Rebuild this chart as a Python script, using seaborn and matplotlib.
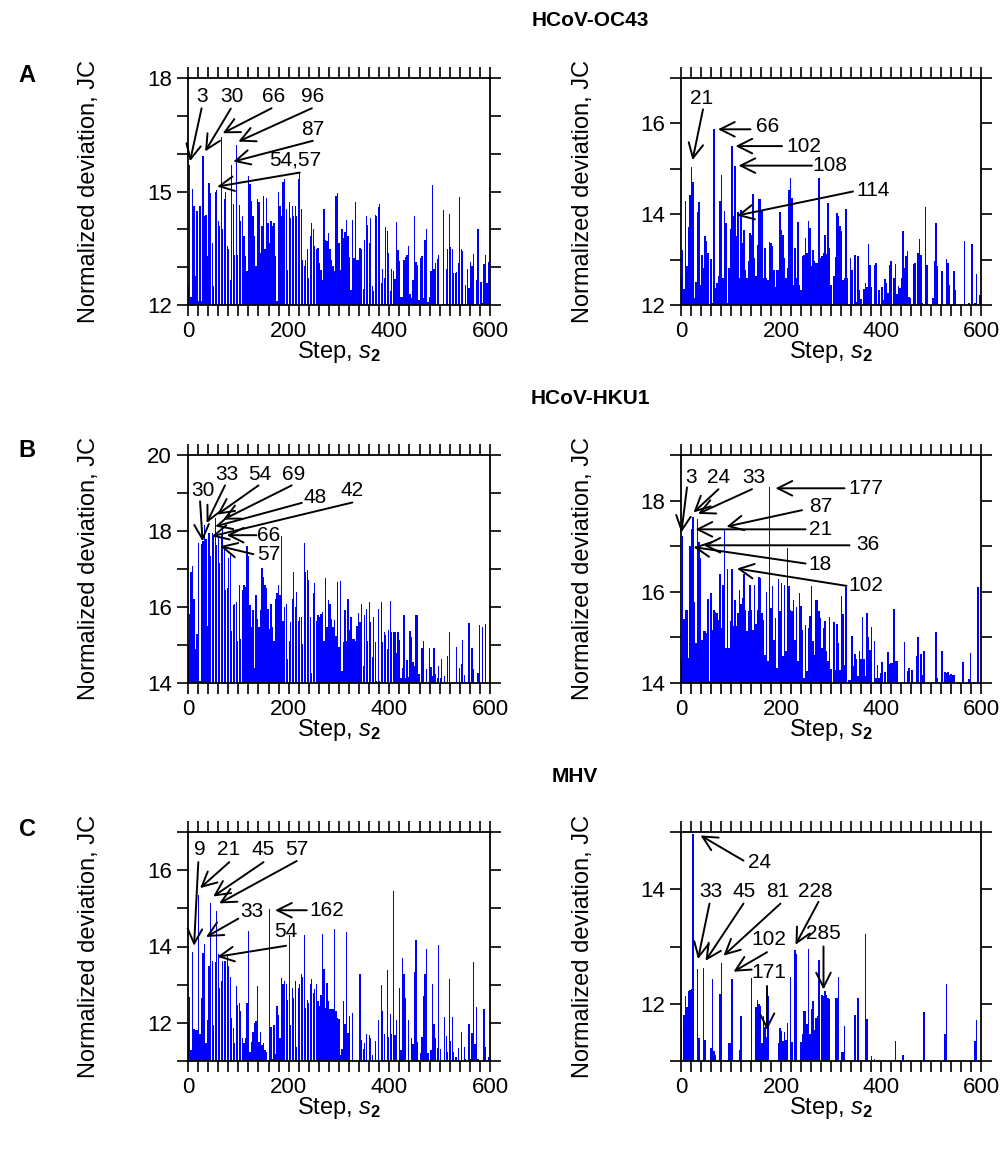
import numpy as np
import pandas as pd
import matplotlib
matplotlib.use("Agg")
import matplotlib.pyplot as plt
import seaborn as sns
from matplotlib.ticker import FixedLocator, MultipleLocator

sns.set_theme(style="ticks")
plt.rcParams['font.family'] = ['Liberation Sans', 'DejaVu Sans']
plt.rcParams['text.color'] = 'black'
plt.rcParams['axes.labelcolor'] = 'black'
plt.rcParams['mathtext.fontset'] = 'custom'
plt.rcParams['mathtext.rm'] = 'Liberation Sans'
plt.rcParams['mathtext.it'] = 'Liberation Sans:italic'
plt.rcParams['mathtext.bf'] = 'Liberation Sans:bold'

# шаг s2 = 0, 3, 6, ... 600
STEP = 3

# HCoV-OC43
oc43_left = [
    12.5, 15.71, 12.2, 15.07, 14.62, 12.76, 14.49, 12.1, 14.62, 12.1,
    15.94, 14.36, 14.37, 13.3, 15.23, 14.96, 13.64, 12.5, 14.98, 15.05,
    14.22, 14.09, 16.44, 14.0, 14.8, 14.98, 13.56, 13.47, 12.67, 15.71,
    14.67, 13.33, 16.22, 13.33, 14.64, 14.22, 14.36, 13.82, 13.29, 12.89,
    15.42, 15.2, 14.76, 14.36, 13.82, 13.02, 14.8, 14.71, 13.38, 14.09,
    14.89, 13.47, 14.84, 14.18, 13.64, 14.22, 14.09, 14.18, 13.29, 12.1,
    15.0, 14.62, 14.36, 15.24, 15.33, 14.53, 12.93, 14.71, 14.31, 14.62,
    14.36, 14.62, 14.36, 15.33, 15.51, 14.53, 13.2, 13.02, 13.2, 13.47,
    12.71, 13.82, 14.18, 14.0, 13.56, 13.47, 13.51, 13.11, 12.93, 12.67,
    14.53, 13.73, 13.69, 13.91, 13.47, 13.2, 13.02, 12.9, 14.89, 14.96,
    13.64, 12.93, 14.02, 13.78, 13.94, 14.25, 13.82, 13.26, 12.4, 14.24,
    13.24, 14.71, 13.2, 13.2, 13.51, 13.47, 12.43, 13.73, 14.36, 14.11,
    13.63, 14.29, 12.49, 12.36, 14.38, 14.36, 14.6, 14.67, 12.58, 12.96,
    12.71, 14.07, 13.96, 13.38, 12.38, 12.96, 12.89, 12.69, 14.2, 13.45,
    13.15, 12.2, 12.22, 13.2, 13.26, 13.31, 13.57, 12.29, 12.18, 12.65,
    14.36, 13.14, 13.07, 12.13, 13.24, 13.29, 12.18, 13.73, 14.02, 12.09,
    12.22, 12.89, 15.18, 12.95, 13.11, 13.22, 13.31, 12.0, 12.0, 14.51,
    12.0, 12.95, 13.47, 14.4, 13.54, 13.47, 12.84, 12.84, 12.88, 13.11,
    14.86, 13.48, 13.42, 12.0, 12.53, 12.96, 12.44, 13.14, 13.02, 13.36,
    12.0, 12.67, 14.0, 12.0, 12.6, 12.04, 13.09, 13.33, 12.58, 13.14,
    13.16,
]
oc43_right = [
    12.6, 13.21, 12.35, 14.29, 12.87, 13.71, 14.43, 15.04, 14.72, 12.16,
    12.51, 14.04, 14.26, 12.44, 13.1, 12.81, 13.51, 13.4, 13.15, 12.0,
    13.02, 12.05, 15.88, 12.37, 12.48, 12.63, 14.29, 14.87, 12.59, 14.06,
    13.8, 12.04, 12.81, 13.67, 15.51, 13.95, 15.07, 13.51, 14.05, 12.59,
    14.1, 13.36, 13.65, 12.77, 12.59, 12.97, 13.58, 13.54, 14.45, 13.03,
    12.63, 13.32, 14.33, 14.33, 14.1, 12.59, 13.26, 12.59, 12.55, 13.38,
    13.36, 13.29, 12.77, 12.4, 12.77, 12.77, 14.04, 13.65, 13.54, 13.03,
    12.59, 12.81, 14.54, 14.79, 14.35, 12.44, 13.25, 12.59, 13.82, 12.44,
    12.33, 13.07, 13.1, 13.47, 13.14, 13.84, 13.69, 12.85, 13.21, 12.97,
    12.92, 12.93, 14.79, 13.03, 13.07, 13.14, 13.54, 13.13, 14.24, 13.26,
    12.44, 12.0, 12.63, 13.05, 14.02, 13.95, 13.73, 13.62, 12.55, 12.59,
    14.12, 12.59, 12.0, 13.03, 12.76, 12.0, 13.1, 12.07, 13.09, 12.33,
    12.13, 12.0, 12.35, 12.48, 12.4, 13.35, 12.88, 12.4, 12.0, 12.88,
    12.92, 12.0, 12.33, 12.0, 12.39, 12.11, 12.57, 12.48, 12.26, 12.88,
    12.98, 12.0, 12.59, 12.9, 12.24, 12.42, 12.37, 12.59, 13.63, 12.81,
    13.08, 13.19, 12.18, 12.16, 12.0, 12.9, 12.92, 12.0, 13.14, 13.45,
    13.1, 12.04, 12.0, 14.15, 12.88, 12.0, 12.0, 12.0, 12.15, 12.96,
    13.8, 12.85, 12.0, 12.0, 12.74, 12.0, 12.0, 13.01, 12.92, 12.44,
    12.0, 12.0, 12.75, 12.33, 12.0, 12.0, 12.0, 12.0, 12.0, 13.4,
    12.0, 12.0, 12.05, 12.0, 13.34, 12.0, 12.04, 12.68, 12.0, 12.22,
    12.18,
]

# HCoV-HKU1
hku1_left = [
    15.0, 15.82, 16.91, 17.09, 16.22, 14.89, 15.29, 17.69, 14.04, 17.67,
    17.75, 18.15, 17.78, 15.51, 17.95, 17.35, 17.94, 17.85, 18.33, 17.64,
    17.82, 17.16, 17.94, 18.13, 17.6, 16.44, 16.49, 17.29, 17.38, 15.38,
    16.04, 16.09, 16.13, 15.11, 16.58, 15.16, 16.44, 16.58, 16.53, 17.6,
    17.33, 16.04, 15.47, 15.91, 14.4, 16.31, 15.69, 15.47, 15.91, 17.02,
    16.8, 16.58, 16.49, 15.96, 15.42, 16.09, 15.47, 15.11, 16.22, 16.36,
    16.58, 16.31, 17.88, 15.64, 16.0, 16.09, 14.62, 15.11, 15.6, 16.22,
    16.91, 16.0, 16.4, 15.64, 15.73, 15.73, 15.02, 17.69, 16.93, 16.98,
    16.71, 15.73, 14.27, 16.36, 16.62, 15.64, 15.78, 15.75, 15.82, 15.87,
    15.11, 16.76, 15.47, 16.18, 16.09, 15.69, 15.47, 15.66, 15.24, 16.67,
    14.95, 16.69, 14.31, 15.09, 15.91, 15.11, 16.2, 15.4, 15.75, 15.16,
    15.17, 15.11, 15.51, 15.85, 15.6, 16.09, 14.44, 15.78, 15.94, 15.11,
    16.13, 15.6, 14.68, 15.75, 15.09, 14.04, 15.96, 14.04, 16.13, 15.08,
    15.33, 15.27, 14.89, 15.4, 16.16, 15.33, 15.33, 15.33, 14.8, 15.33,
    15.13, 14.12, 14.4, 15.78, 14.13, 14.6, 14.15, 15.38, 15.2, 14.55,
    14.44, 15.78, 15.8, 14.25, 14.0, 14.93, 15.11, 14.0, 14.36, 14.0,
    14.93, 14.42, 14.18, 14.92, 14.24, 14.13, 14.44, 14.13, 14.62, 14.0,
    14.18, 14.0, 14.71, 15.35, 14.0, 14.0, 14.0, 14.0, 14.95, 14.0,
    14.4, 14.51, 15.14, 14.22, 14.0, 14.0, 15.57, 14.0, 14.93, 14.36,
    14.0, 14.0, 14.27, 15.53, 14.0, 15.48, 14.0, 15.54, 14.0, 14.0,
    14.0,
]
hku1_right = [
    14.5, 17.22, 15.41, 15.61, 15.6, 14.55, 17.0, 17.37, 17.63, 15.77,
    14.88, 17.59, 17.1, 16.75, 14.95, 15.13, 15.15, 15.1, 15.85, 14.04,
    15.98, 15.17, 15.59, 15.56, 15.54, 15.39, 16.38, 15.2, 16.16, 17.35,
    14.77, 16.49, 14.77, 15.36, 16.51, 15.25, 15.83, 15.25, 15.54, 16.03,
    15.73, 15.86, 16.38, 15.59, 15.15, 15.57, 16.14, 15.61, 15.17, 16.15,
    15.3, 15.61, 16.33, 16.31, 15.54, 15.39, 14.62, 16.0, 14.48, 18.29,
    15.65, 16.12, 14.95, 15.43, 14.33, 16.27, 15.58, 16.2, 14.59, 16.15,
    14.7, 16.97, 16.12, 15.61, 15.57, 15.83, 14.95, 15.67, 14.48, 15.98,
    15.69, 15.17, 14.11, 15.28, 14.26, 15.21, 15.47, 16.13, 14.92, 14.61,
    15.83, 15.81, 15.57, 15.43, 14.77, 15.21, 15.36, 14.7, 14.48, 15.44,
    14.31, 14.0, 15.33, 14.29, 15.3, 14.88, 14.29, 15.9, 15.52, 14.4,
    16.11, 14.0, 14.07, 14.07, 15.04, 14.37, 14.64, 14.53, 14.16, 14.7,
    14.53, 15.44, 14.53, 14.15, 15.53, 15.0, 14.73, 15.23, 14.0, 14.92,
    14.11, 14.4, 14.11, 14.22, 14.45, 14.0, 14.24, 14.0, 14.68, 14.42,
    14.44, 14.44, 15.63, 14.48, 14.48, 14.0, 14.0, 14.0, 14.0, 14.89,
    14.0, 14.27, 14.33, 14.0, 14.29, 14.0, 14.0, 14.59, 15.0, 14.0,
    14.64, 14.18, 14.7, 14.0, 14.0, 14.0, 14.0, 14.0, 14.0, 14.0,
    15.11, 14.11, 14.0, 14.0, 14.71, 14.0, 14.24, 14.23, 14.24, 14.18,
    14.2, 14.17, 14.18, 14.0, 14.0, 14.0, 14.0, 14.0, 14.46, 14.0,
    14.0, 14.0, 14.09, 14.65, 14.0, 14.0, 14.0, 14.0, 16.11, 14.0,
    14.0,
]

# MHV
mhv_left = [
    12.0, 12.68, 11.3, 13.85, 11.84, 11.81, 11.81, 15.35, 11.71, 12.65,
    13.83, 14.07, 11.46, 12.08, 13.48, 15.15, 13.63, 11.95, 13.6, 14.94,
    13.81, 12.92, 13.1, 13.63, 13.61, 13.63, 13.81, 13.5, 13.19, 12.12,
    11.86, 11.46, 12.96, 12.48, 12.52, 12.3, 11.59, 11.46, 11.59, 12.52,
    14.41, 11.24, 11.5, 11.77, 11.99, 12.04, 12.96, 11.5, 11.77, 11.42,
    11.46, 11.28, 11.24, 11.0, 14.97, 11.9, 11.06, 11.95, 11.19, 12.43,
    12.21, 11.59, 13.17, 13.01, 13.1, 13.01, 12.61, 14.29, 11.95, 12.92,
    12.65, 13.1, 11.37, 12.92, 13.01, 13.27, 13.19, 14.29, 12.39, 12.61,
    12.52, 13.01, 13.14, 12.79, 12.88, 13.01, 12.57, 12.43, 12.74, 14.34,
    13.41, 12.39, 13.05, 12.57, 12.35, 12.35, 12.35, 14.47, 12.3, 12.12,
    12.11, 11.15, 11.31, 12.57, 11.98, 14.38, 11.74, 12.17, 11.0, 12.27,
    11.0, 11.0, 11.0, 11.0, 13.27, 11.55, 11.31, 11.46, 11.71, 11.0,
    11.68, 11.59, 11.15, 11.0, 11.52, 11.0, 12.08, 11.0, 12.98, 12.3,
    11.71, 11.0, 13.39, 11.64, 12.23, 11.71, 15.46, 11.68, 12.08, 11.0,
    12.92, 11.28, 13.7, 13.27, 12.65, 11.0, 12.08, 11.0, 11.59, 11.44,
    13.32, 14.16, 11.5, 11.0, 11.22, 11.64, 12.71, 13.27, 13.94, 11.21,
    11.0, 11.3, 13.01, 11.96, 11.6, 11.33, 14.05, 11.31, 11.0, 11.0,
    12.14, 11.65, 11.24, 13.14, 11.52, 12.14, 11.24, 11.1, 11.1, 11.33,
    11.0, 11.77, 11.0, 11.37, 11.06, 11.0, 11.97, 11.06, 11.74, 13.6,
    11.44, 12.41, 11.06, 11.0, 11.0, 11.0, 12.35, 11.37, 11.0, 11.1,
    11.0,
]
mhv_right = [
    11.54, 11.0, 11.8, 12.13, 11.95, 12.22, 12.24, 12.25, 14.96, 11.0,
    11.0, 12.6, 11.4, 11.0, 11.0, 12.63, 11.37, 11.0, 11.0, 11.0,
    11.22, 12.43, 11.17, 11.1, 11.0, 11.0, 12.17, 12.72, 11.0, 11.0,
    11.02, 11.0, 11.31, 11.31, 12.43, 11.0, 11.0, 11.0, 11.0, 11.19,
    11.78, 11.0, 11.0, 11.0, 11.0, 11.0, 11.0, 12.45, 11.0, 11.0,
    11.94, 12.07, 11.99, 11.96, 11.31, 11.78, 11.6, 11.42, 12.13, 11.0,
    11.0, 11.0, 11.0, 11.0, 11.0, 11.31, 11.57, 11.53, 11.35, 11.51,
    11.37, 11.66, 11.0, 12.46, 11.34, 11.0, 12.94, 12.87, 11.0, 11.0,
    11.34, 11.48, 11.88, 11.87, 11.64, 12.95, 11.48, 11.9, 12.05, 11.54,
    11.75, 11.78, 12.76, 11.0, 12.15, 12.13, 12.22, 12.16, 12.1, 12.09,
    11.0, 11.0, 11.0, 12.1, 12.1, 12.47, 11.0, 11.15, 11.15, 11.61,
    11.0, 11.0, 11.0, 11.0, 11.0, 11.0, 11.81, 11.0, 12.1, 11.0,
    11.0, 11.0, 11.0, 13.21, 11.73, 11.0, 11.0, 11.08, 11.0, 11.04,
    11.0, 11.0, 11.0, 11.0, 11.0, 11.0, 11.0, 11.0, 11.0, 11.0,
    11.0, 11.0, 11.0, 11.35, 11.0, 11.0, 11.0, 11.0, 11.11, 11.0,
    11.0, 11.0, 11.0, 11.0, 11.0, 11.0, 11.0, 11.0, 11.0, 11.0,
    11.0, 11.0, 11.86, 11.0, 11.0, 11.0, 11.0, 11.0, 11.0, 11.02,
    11.0, 11.0, 11.0, 11.0, 11.0, 11.0, 11.48, 12.34, 11.0, 11.0,
    11.0, 11.0, 11.0, 11.0, 11.0, 11.0, 11.0, 11.0, 11.0, 11.0,
    11.0, 11.0, 11.0, 11.0, 11.0, 11.0, 11.35, 11.72, 11.0, 11.0,
    11.0,
]

# пределы и подписи оси y
ylims = [(12, 18), (12, 17), (14, 20), (14, 19), (11, 17), (11, 15)]
yticklabels = [[12, 15, 18], [12, 14, 16], [14, 16, 18, 20], [14, 16, 18], [12, 14, 16], [12, 14]]
xticklabels = [0, 200, 400, 600]

# подписи пиков: (текст, позиция текста, начало стрелки, конец стрелки)
notes = [
    [("3", (27, 17.5), (27, 17.2), (4, 15.8)),
     ("30", (87, 17.5), (85, 17.19), (34, 16.06)),
     ("66", (170, 17.5), (166, 17.2), (69, 16.54)),
     ("96", (248, 17.5), (246, 17.2), (100, 16.32)),
     ("87", (248, 16.63), (248, 16.34), (90, 15.79)),
     ("54,57", (213, 15.82), (222, 15.5), (58, 15.13))],
    [("21", (41, 16.55), (44, 16.31), (23, 15.19)),
     ("66", (174, 15.93), (139, 15.87), (74, 15.87)),
     ("102", (245, 15.5), (202, 15.5), (109, 15.5)),
     ("108", (298, 15.08), (262, 15.07), (115, 15.07)),
     ("114", (384, 14.53), (344, 14.5), (112, 13.97))],
    [("30", (30.5, 19.06), (24, 18.78), (29, 17.73)),
     ("33", (77, 19.48), (73.5, 19.2), (37, 18.21)),
     ("54", (143, 19.48), (140, 19.2), (58, 18.43)),
     ("69", (209, 19.48), (206, 19.2), (70, 18.3)),
     ("48", (252, 18.87), (226, 18.74), (54, 18.12)),
     ("42", (326.5, 19.06), (326.5, 18.75), (47, 17.86)),
     ("66", (160, 17.89), (136, 17.89), (77, 17.89)),
     ("57", (160, 17.38), (130, 17.39), (64, 17.6))],
    [("3", (20.7, 18.5), (12, 18.29), (0.7, 17.3)),
     ("24", (75, 18.5), (75, 18.25), (25, 17.74)),
     ("33", (145, 18.5), (142, 18.25), (34, 17.71)),
     ("177", (369, 18.27), (327, 18.27), (189, 18.27)),
     ("87", (279, 17.88), (242, 17.79), (91, 17.43)),
     ("21", (279, 17.37), (249, 17.37), (29, 17.37)),
     ("36", (373, 17.04), (337, 17.02), (45, 17.02)),
     ("18", (279, 16.6), (249, 16.62), (25, 16.98)),
     ("102", (369, 16.14), (331, 16.13), (112, 16.51))],
    [("9", (24, 16.54), (20.5, 16.21), (12, 14.02)),
     ("21", (80, 16.54), (82, 16.21), (24, 15.53)),
     ("45", (150, 16.54), (150, 16.21), (50, 15.31)),
     ("57", (216, 16.54), (216, 16.24), (62, 15.13)),
     ("33", (126.5, 14.91), (100, 14.73), (36, 14.25)),
     ("162", (275.5, 14.95), (236, 14.95), (173, 14.95)),
     ("54", (195, 14.38), (195, 14.02), (58, 13.73))],
    [("24", (157, 14.46), (125, 14.5), (39, 14.94)),
     ("33", (59, 13.96), (57, 13.75), (34, 12.78)),
     ("45", (127, 13.96), (125, 13.75), (49, 12.75)),
     ("81", (194, 13.96), (199, 13.75), (85, 12.84)),
     ("102", (175, 13.13), (172, 12.9), (105, 12.56)),
     ("171", (175, 12.54), (172, 12.31), (172, 11.54)),
     ("228", (268, 13.96), (275, 13.78), (229, 13.03)),
     ("285", (284, 13.22), (285, 13.0), (285, 12.25))],
]

series = [oc43_left, oc43_right, hku1_left, hku1_right, mhv_left, mhv_right]

W, H = 1006, 1156
rows = [(78, 305), (455, 683), (832, 1061)]
cols = [(188, 490), (681, 981)]

fig = plt.figure(figsize=(W / 100, H / 100), dpi=100)

for i, vals in enumerate(series):
    r, c = divmod(i, 2)
    y0, y1 = rows[r]
    x0, x1 = cols[c]
    ax = fig.add_axes([x0 / W, 1 - y1 / H, (x1 - x0) / W, (y1 - y0) / H])

    df = pd.DataFrame({"step": np.arange(len(vals)) * STEP, "value": vals})
    sns.barplot(data=df, x="step", y="value", native_scale=True, orient="x",
                color="#0000ff", saturation=1, width=0.85, errorbar=None,
                linewidth=0, antialiased=False, ax=ax)

    ax.set_xlim(0, 600)
    ax.set_ylim(*ylims[i])
    ax.xaxis.set_major_locator(FixedLocator(xticklabels))
    ax.xaxis.set_minor_locator(MultipleLocator(20))
    ax.yaxis.set_major_locator(FixedLocator(yticklabels[i]))
    ax.yaxis.set_minor_locator(MultipleLocator(1))
    ax.tick_params(which="both", direction="out", length=8, width=1.2,
                   top=True, right=True, color="black")
    ax.tick_params(labelsize=16, labelcolor="black")
    for sp in ax.spines.values():
        sp.set_color("black")
        sp.set_linewidth(1.3)

    ax.set_ylabel("Normalized deviation, JC", fontsize=17)
    ax.yaxis.set_label_coords(-0.29, 0.5)
    ax.set_xlabel(r"Step, $s_\mathbf{2}$", fontsize=17)
    ax.xaxis.set_label_coords(0.5, -0.15)

    for label, txy, start, tip in notes[i]:
        ax.annotate("", xy=tip, xytext=start, annotation_clip=False,
                    arrowprops=dict(arrowstyle="->,head_length=0.7,head_width=0.35",
                                    lw=1.4, color="black", shrinkA=0, shrinkB=0,
                                    mutation_scale=15))
        ax.text(txy[0], txy[1], label, ha="center", va="center", fontsize=15,
                clip_on=False)

# заголовки и буквы панелей
for title, (px, py) in [("HCoV-OC43", (590, 20)), ("HCoV-HKU1", (590, 398)), ("MHV", (575, 776))]:
    fig.text(px / W, 1 - py / H, title, ha="center", va="center",
             fontsize=15, fontweight="bold")
for letter, py in [("A", 76), ("B", 450), ("C", 830)]:
    fig.text(27 / W, 1 - py / H, letter, ha="center", va="center",
             fontsize=17, fontweight="bold")

fig.savefig("out.png", dpi=100)
